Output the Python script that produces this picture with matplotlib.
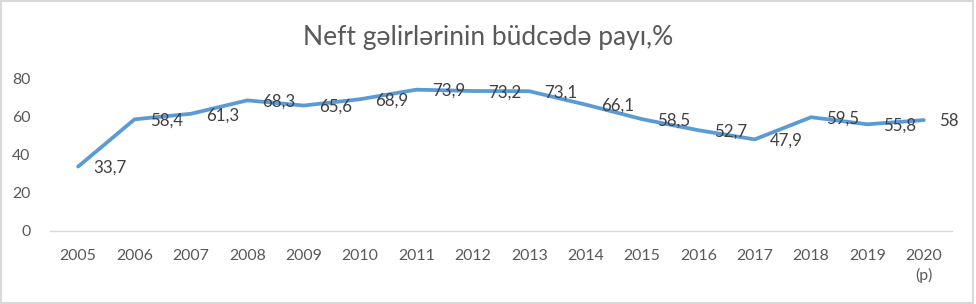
import matplotlib
matplotlib.use("Agg")
import matplotlib.pyplot as plt
from matplotlib.patches import Rectangle

years = ["2005", "2006", "2007", "2008", "2009", "2010", "2011", "2012", "2013",
         "2014", "2015", "2016", "2017", "2018", "2019", "2020\n(p)"]
values = [33.7, 58.4, 61.3, 68.3, 65.6, 68.9, 73.9, 73.2, 73.1,
          66.1, 58.5, 52.7, 47.9, 59.5, 55.8, 58]
labels = ["33,7", "58,4", "61,3", "68,3", "65,6", "68,9", "73,9", "73,2", "73,1",
          "66,1", "58,5", "52,7", "47,9", "59,5", "55,8", "58"]
title = "Neft gəlirlərinin büdcədə payı,%"

plt.rcParams['font.family'] = ['Lato', 'DejaVu Sans']

fig = plt.figure(figsize=(9.76, 3.04), dpi=100)
ax = fig.add_axes([50/976, 73/304, 902/976, 153/304])

x = list(range(len(years)))
ax.plot(x, values, color="#5B9BD5", linewidth=2.7, solid_capstyle="round",
        solid_joinstyle="round")

for xi, v, lab in zip(x, values, labels):
    ax.annotate(lab, (xi, v), xytext=(11, -1), textcoords="offset points",
                ha="left", va="center", fontsize=12.2, color="#404040")

ax.set_xlim(-0.5, len(years) - 0.5)
ax.set_ylim(0, 80)
ax.set_yticks([0, 20, 40, 60, 80])
ax.set_xticks(x)
ax.set_xticklabels(years, linespacing=1.4)
ax.tick_params(axis="both", length=0, labelsize=11.4, colors="#595959")
ax.tick_params(axis="y", pad=14)
ax.tick_params(axis="x", pad=13)
for lab in ax.get_xticklabels():
    lab.set_verticalalignment("top")

for s in ["top", "right", "left"]:
    ax.spines[s].set_visible(False)
ax.spines["bottom"].set_color("#D9D9D9")
ax.spines["bottom"].set_linewidth(1)

fig.text(0.5, 1 - 38/304, title, ha="center", va="center", fontsize=19,
         color="#595959")

fig.patches.append(Rectangle((0.001, 0.002), 0.996, 0.994, transform=fig.transFigure,
                             fill=False, edgecolor="#D9D9D9", linewidth=1.5))

fig.savefig("out.png", dpi=100, facecolor="white")
